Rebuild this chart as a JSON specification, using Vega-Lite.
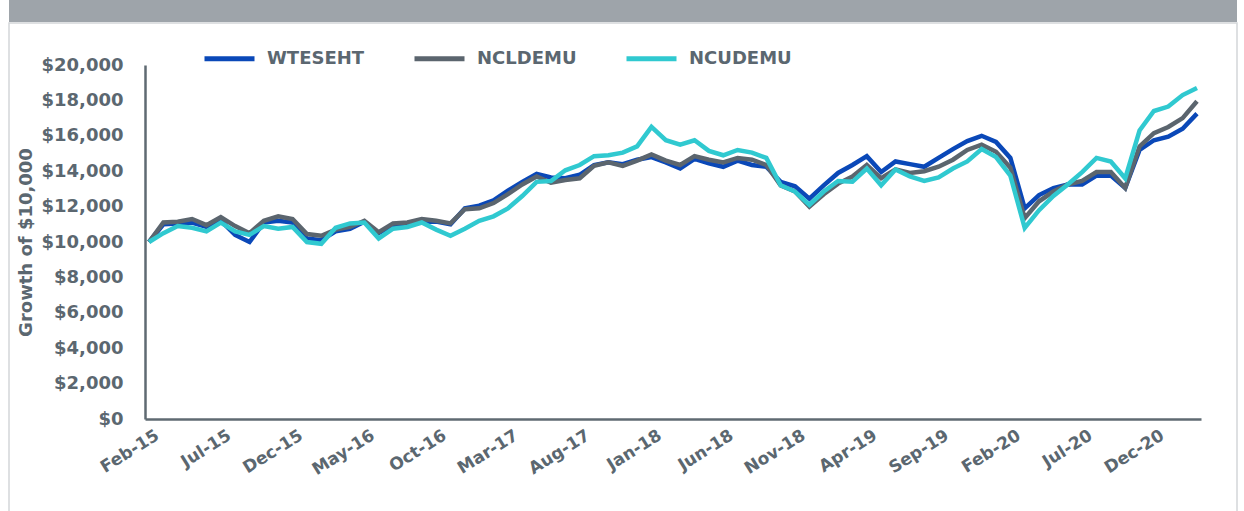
{
  "$schema": "https://vega.github.io/schema/vega-lite/v6.json",
  "padding": {"left": 8, "top": 0, "right": 8, "bottom": 0},
  "spacing": 0,
  "config": {
    "view": {"stroke": null},
    "axis": {
      "labelFont": "DejaVu Sans", "labelFontWeight": "bold", "labelColor": "#5b6770",
      "titleFont": "DejaVu Sans", "titleFontWeight": "bold", "titleColor": "#5b6770",
      "domainColor": "#5f6a72", "domainWidth": 2.5, "ticks": false, "grid": false
    },
    "legend": {
      "labelFont": "DejaVu Sans", "labelFontWeight": "bold", "labelColor": "#5b6770", "labelFontSize": 18
    }
  },
  "vconcat": [
    {
      "width": 1228, "height": 22,
      "view": {"fill": "#9ea4aa", "stroke": null},
      "data": {"values": [{"t": ""}]},
      "mark": {"type": "text"},
      "encoding": {"text": {"field": "t"}}
    },
    {
      "width": 1228, "height": 490,
      "view": {"stroke": "#d3d6d9", "strokeWidth": 1.5},
      "data": {"values": [
        {"m": "Feb-15", "W": 10000, "G": 10000, "C": 10000},
        {"m": "Mar-15", "W": 11000, "G": 11100, "C": 10500},
        {"m": "Apr-15", "W": 11050, "G": 11150, "C": 10900},
        {"m": "May-15", "W": 11100, "G": 11300, "C": 10800},
        {"m": "Jun-15", "W": 10850, "G": 10950, "C": 10600},
        {"m": "Jul-15", "W": 11200, "G": 11400, "C": 11100},
        {"m": "Aug-15", "W": 10400, "G": 10900, "C": 10600},
        {"m": "Sep-15", "W": 10000, "G": 10500, "C": 10400},
        {"m": "Oct-15", "W": 11100, "G": 11200, "C": 10900},
        {"m": "Nov-15", "W": 11200, "G": 11450, "C": 10750},
        {"m": "Dec-15", "W": 11100, "G": 11300, "C": 10850},
        {"m": "Jan-16", "W": 10200, "G": 10450, "C": 10000},
        {"m": "Feb-16", "W": 10100, "G": 10350, "C": 9900},
        {"m": "Mar-16", "W": 10600, "G": 10700, "C": 10800},
        {"m": "Apr-16", "W": 10750, "G": 10850, "C": 11050},
        {"m": "May-16", "W": 11150, "G": 11200, "C": 11100},
        {"m": "Jun-16", "W": 10500, "G": 10550, "C": 10200},
        {"m": "Jul-16", "W": 10950, "G": 11050, "C": 10750},
        {"m": "Aug-16", "W": 10900, "G": 11100, "C": 10850},
        {"m": "Sep-16", "W": 11150, "G": 11300, "C": 11100},
        {"m": "Oct-16", "W": 11150, "G": 11200, "C": 10700},
        {"m": "Nov-16", "W": 11000, "G": 11050, "C": 10350},
        {"m": "Dec-16", "W": 11900, "G": 11850, "C": 10750},
        {"m": "Jan-17", "W": 12050, "G": 11900, "C": 11200},
        {"m": "Feb-17", "W": 12350, "G": 12200, "C": 11450},
        {"m": "Mar-17", "W": 12900, "G": 12700, "C": 11900},
        {"m": "Apr-17", "W": 13400, "G": 13250, "C": 12600},
        {"m": "May-17", "W": 13850, "G": 13700, "C": 13400},
        {"m": "Jun-17", "W": 13650, "G": 13350, "C": 13450},
        {"m": "Jul-17", "W": 13600, "G": 13500, "C": 14050},
        {"m": "Aug-17", "W": 13800, "G": 13600, "C": 14350},
        {"m": "Sep-17", "W": 14350, "G": 14300, "C": 14850},
        {"m": "Oct-17", "W": 14500, "G": 14500, "C": 14900},
        {"m": "Nov-17", "W": 14400, "G": 14300, "C": 15050},
        {"m": "Dec-17", "W": 14650, "G": 14600, "C": 15400},
        {"m": "Jan-18", "W": 14800, "G": 14950, "C": 16500},
        {"m": "Feb-18", "W": 14500, "G": 14600, "C": 15750},
        {"m": "Mar-18", "W": 14150, "G": 14350, "C": 15500},
        {"m": "Apr-18", "W": 14700, "G": 14850, "C": 15750},
        {"m": "May-18", "W": 14450, "G": 14650, "C": 15150},
        {"m": "Jun-18", "W": 14250, "G": 14500, "C": 14900},
        {"m": "Jul-18", "W": 14600, "G": 14750, "C": 15200},
        {"m": "Aug-18", "W": 14350, "G": 14650, "C": 15050},
        {"m": "Sep-18", "W": 14250, "G": 14350, "C": 14750},
        {"m": "Oct-18", "W": 13400, "G": 13200, "C": 13200},
        {"m": "Nov-18", "W": 13150, "G": 12850, "C": 12850},
        {"m": "Dec-18", "W": 12450, "G": 12000, "C": 12100},
        {"m": "Jan-19", "W": 13200, "G": 12700, "C": 12850},
        {"m": "Feb-19", "W": 13900, "G": 13300, "C": 13450},
        {"m": "Mar-19", "W": 14350, "G": 13700, "C": 13400},
        {"m": "Apr-19", "W": 14850, "G": 14350, "C": 14150},
        {"m": "May-19", "W": 13950, "G": 13600, "C": 13200},
        {"m": "Jun-19", "W": 14550, "G": 14100, "C": 14100},
        {"m": "Jul-19", "W": 14400, "G": 13900, "C": 13700},
        {"m": "Aug-19", "W": 14250, "G": 14000, "C": 13450},
        {"m": "Sep-19", "W": 14750, "G": 14250, "C": 13650},
        {"m": "Oct-19", "W": 15250, "G": 14650, "C": 14150},
        {"m": "Nov-19", "W": 15700, "G": 15200, "C": 14550},
        {"m": "Dec-19", "W": 16000, "G": 15500, "C": 15250},
        {"m": "Jan-20", "W": 15650, "G": 15100, "C": 14800},
        {"m": "Feb-20", "W": 14750, "G": 14200, "C": 13750},
        {"m": "Mar-20", "W": 11900, "G": 11350, "C": 10800},
        {"m": "Apr-20", "W": 12650, "G": 12300, "C": 11800},
        {"m": "May-20", "W": 13050, "G": 12850, "C": 12600},
        {"m": "Jun-20", "W": 13250, "G": 13250, "C": 13250},
        {"m": "Jul-20", "W": 13250, "G": 13450, "C": 13950},
        {"m": "Aug-20", "W": 13750, "G": 13950, "C": 14750},
        {"m": "Sep-20", "W": 13750, "G": 13950, "C": 14550},
        {"m": "Oct-20", "W": 13050, "G": 13050, "C": 13600},
        {"m": "Nov-20", "W": 15200, "G": 15400, "C": 16300},
        {"m": "Dec-20", "W": 15750, "G": 16150, "C": 17400},
        {"m": "Jan-21", "W": 15950, "G": 16500, "C": 17650},
        {"m": "Feb-21", "W": 16400, "G": 17000, "C": 18300},
        {"m": "Mar-21", "W": 17250, "G": 17950, "C": 18700}
      ]},
      "encoding": {
        "x": {
          "field": "m", "type": "ordinal", "sort": null,
          "scale": {"type": "point", "padding": 0.28, "range": [136, 1192]},
          "axis": {
            "title": null, "offset": -94,
            "values": ["Feb-15","Jul-15","Dec-15","May-16","Oct-16","Mar-17","Aug-17","Jan-18","Jun-18","Nov-18","Apr-19","Sep-19","Feb-20","Jul-20","Dec-20"],
            "labelAngle": -32, "labelFontSize": 17, "labelPadding": 8, "labelOffset": 4
          }
        }
      },
      "layer": [
        {
          "mark": {"type": "line", "strokeWidth": 4.5},
          "encoding": {
            "y": {"field": "W", "type": "quantitative", "title": "Growth of $10,000",
              "scale": {"domain": [0, 20000], "range": [396, 42], "nice": false},
              "axis": {"offset": -136, "values": [0,2000,4000,6000,8000,10000,12000,14000,16000,18000,20000], "format": "$,.0f", "labelOverlap": false, "labelFontSize": 18, "labelPadding": 22, "titleFontSize": 18, "titlePadding": 6}},
            "color": {"datum": "WTESEHT", "type": "nominal",
              "scale": {"domain": ["WTESEHT", "NCLDEMU", "NCUDEMU"], "range": ["#0a48b8", "#5b656e", "#30c9d0"]},
              "legend": {"title": null, "orient": "none", "direction": "horizontal", "legendX": 193, "legendY": 31,
                "symbolType": "stroke", "symbolSize": 2500, "symbolStrokeWidth": 5, "labelOffset": 10, "columnPadding": 39, "padding": 0}}
          }
        },
        {
          "mark": {"type": "line", "strokeWidth": 4.5},
          "encoding": {
            "y": {"field": "G", "type": "quantitative", "title": "Growth of $10,000",
              "axis": {"offset": -136, "values": [0,2000,4000,6000,8000,10000,12000,14000,16000,18000,20000], "format": "$,.0f", "labelOverlap": false, "labelFontSize": 18, "labelPadding": 22, "titleFontSize": 18, "titlePadding": 6}},
            "color": {"datum": "NCLDEMU", "type": "nominal"}
          }
        },
        {
          "mark": {"type": "line", "strokeWidth": 4.5},
          "encoding": {
            "y": {"field": "C", "type": "quantitative", "title": "Growth of $10,000",
              "axis": {"offset": -136, "values": [0,2000,4000,6000,8000,10000,12000,14000,16000,18000,20000], "format": "$,.0f", "labelOverlap": false, "labelFontSize": 18, "labelPadding": 22, "titleFontSize": 18, "titlePadding": 6}},
            "color": {"datum": "NCUDEMU", "type": "nominal"}
          }
        }
      ]
    }
  ]
}
